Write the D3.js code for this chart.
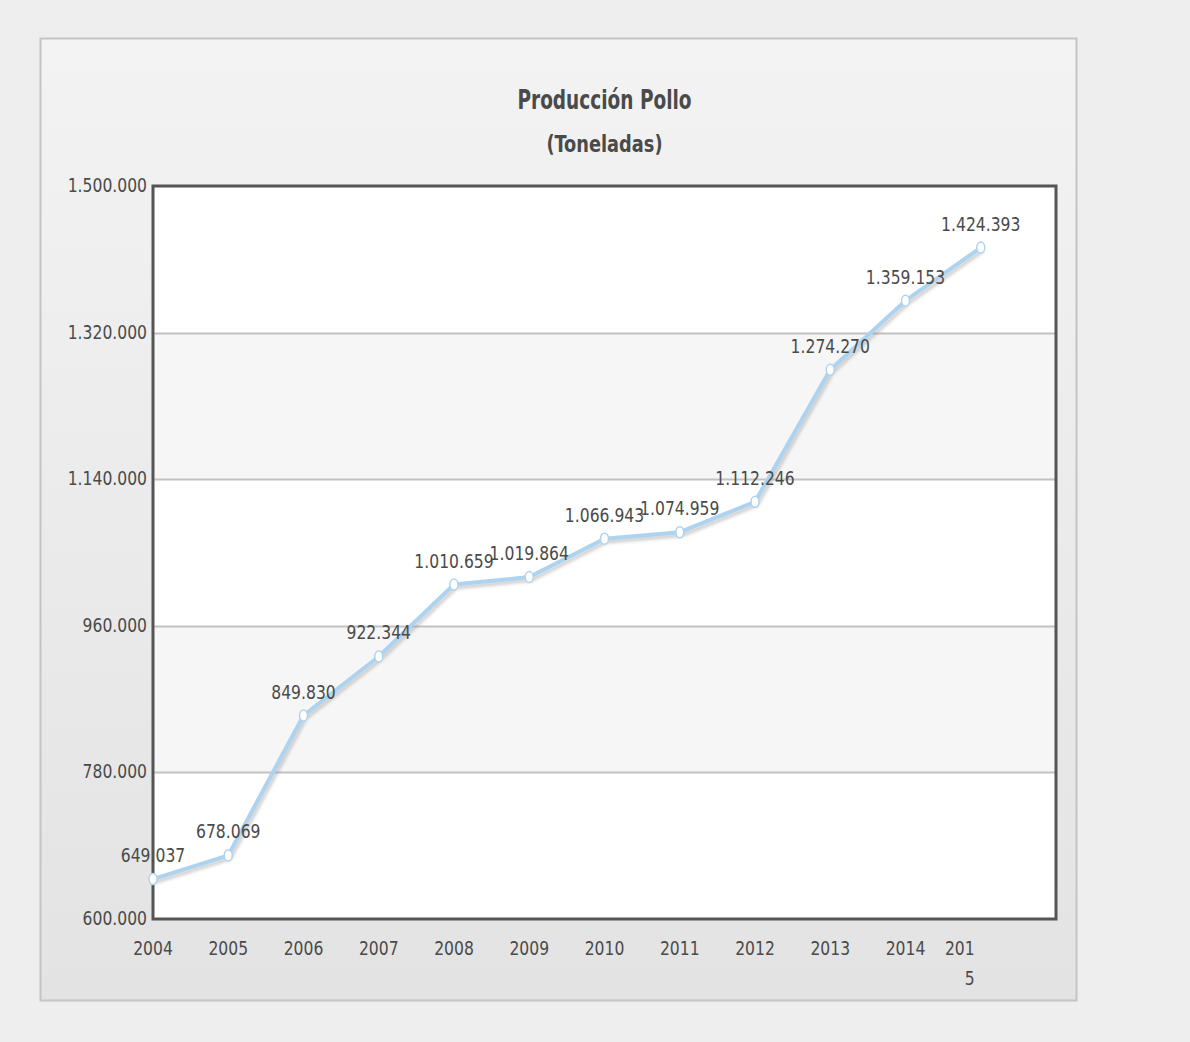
<!DOCTYPE html>
<html>
<head>
<meta charset="utf-8">
<script src="https://cdn.jsdelivr.net/npm/d3@7"></script>
<style>
  body { margin: 0; background: #eeeeee; }
  svg { display: block; }
  text { font-family: "DejaVu Sans Condensed", "DejaVu Sans", sans-serif; fill: #4a4a4a; }
</style>
</head>
<body>
<svg id="chart"></svg>
<script>
const years = [2004, 2005, 2006, 2007, 2008, 2009, 2010, 2011, 2012, 2013, 2014, 2015];
const produccion = [649037, 678069, 849830, 922344, 1010659, 1019864, 1066943, 1074959, 1112246, 1274270, 1359153, 1424393];
const yTicks = [600000, 780000, 960000, 1140000, 1320000, 1500000];

const width = 1190, height = 1042;
const plot = { left: 153, top: 186, right: 1056, bottom: 919 };
const stretch = 1.18; // the reference text is drawn taller than wide

const svg = d3.select('#chart').attr('width', width).attr('height', height);

const es = d3.formatLocale({ decimal: ',', thousands: '.', grouping: [3], currency: ['', ''] });
const fmt = es.format(',d');

const place = (px, py) => `translate(${px},${py}) scale(1.02,${stretch})`;

const defs = svg.append('defs');
const grad = defs.append('linearGradient').attr('id', 'panelGrad')
  .attr('x1', 0).attr('y1', 0).attr('x2', 0).attr('y2', 1);
grad.append('stop').attr('offset', '0%').attr('stop-color', '#f3f3f3');
grad.append('stop').attr('offset', '100%').attr('stop-color', '#e3e3e3');

const shadow = defs.append('filter').attr('id', 'shadow')
  .attr('x', '-10%').attr('y', '-10%').attr('width', '120%').attr('height', '120%');
shadow.append('feGaussianBlur').attr('stdDeviation', 1.5);

// panel
svg.append('rect')
  .attr('x', 40.5).attr('y', 38.5).attr('width', 1036).attr('height', 962)
  .attr('fill', 'url(#panelGrad)').attr('stroke', '#c4c4c4').attr('stroke-width', 2);

const x = d3.scaleLinear().domain([2004, 2016]).range([plot.left, plot.right]);
const y = d3.scaleLinear().domain([600000, 1500000]).range([plot.bottom, plot.top]);

// bands
svg.append('rect')
  .attr('x', plot.left).attr('y', plot.top)
  .attr('width', plot.right - plot.left).attr('height', plot.bottom - plot.top)
  .attr('fill', '#ffffff');

const bands = d3.pairs(yTicks).filter((d, i) => i % 2 === 1);
svg.selectAll('.band')
  .data(bands)
  .enter().append('rect')
  .attr('class', 'band')
  .attr('x', plot.left)
  .attr('y', d => y(d[1]))
  .attr('width', plot.right - plot.left)
  .attr('height', d => y(d[0]) - y(d[1]))
  .attr('fill', '#f6f6f6');

// grid
svg.selectAll('.grid')
  .data(yTicks.slice(1, -1))
  .enter().append('line')
  .attr('class', 'grid')
  .attr('x1', plot.left).attr('x2', plot.right)
  .attr('y1', d => Math.round(y(d)) + 0.5).attr('y2', d => Math.round(y(d)) + 0.5)
  .attr('stroke', '#c2c2c2').attr('stroke-width', 2);

// y labels
svg.selectAll('.ylab')
  .data(yTicks)
  .enter().append('text')
  .attr('class', 'ylab')
  .attr('transform', d => place(plot.left - 6, y(d) + 6))
  .attr('text-anchor', 'end')
  .style('font-size', '17px')
  .text(d => fmt(d));

// x labels
svg.selectAll('.xlab')
  .data(years.slice(0, -1))
  .enter().append('text')
  .attr('class', 'xlab')
  .attr('transform', d => place(x(d), plot.bottom + 36))
  .attr('text-anchor', 'middle')
  .style('font-size', '17px')
  .text(d => d);

// last label wraps in the original
const last = years[years.length - 1];
svg.append('text')
  .attr('transform', place(x(last) - 21, plot.bottom + 36))
  .attr('text-anchor', 'middle')
  .style('font-size', '17px')
  .text(String(last).slice(0, 3));
svg.append('text')
  .attr('transform', place(x(last) - 11, plot.bottom + 66))
  .attr('text-anchor', 'middle')
  .style('font-size', '17px')
  .text(String(last).slice(3));

// frame
svg.append('rect')
  .attr('x', plot.left).attr('y', plot.top)
  .attr('width', plot.right - plot.left).attr('height', plot.bottom - plot.top)
  .attr('fill', 'none').attr('stroke', '#555555').attr('stroke-width', 3);

const data = years.map((d, i) => ({ year: d, value: produccion[i] }));
const line = d3.line().x(d => x(d.year)).y(d => y(d.value));

svg.append('path')
  .datum(data)
  .attr('d', line)
  .attr('transform', 'translate(2,3)')
  .attr('fill', 'none')
  .attr('stroke', '#999999')
  .attr('stroke-opacity', 0.45)
  .attr('stroke-width', 4)
  .attr('filter', 'url(#shadow)');

svg.append('path')
  .datum(data)
  .attr('d', line)
  .attr('fill', 'none')
  .attr('stroke', '#acd3f0')
  .attr('stroke-width', 4)
  .attr('stroke-linejoin', 'round');

svg.selectAll('.pt')
  .data(data)
  .enter().append('ellipse')
  .attr('class', 'pt')
  .attr('cx', d => x(d.year))
  .attr('cy', d => y(d.value))
  .attr('rx', 4).attr('ry', 5.5)
  .attr('fill', '#ffffff')
  .attr('stroke', '#acd3f0')
  .attr('stroke-width', 1.5);

svg.selectAll('.vlab')
  .data(data)
  .enter().append('text')
  .attr('class', 'vlab')
  .attr('transform', d => place(x(d.year), y(d.value) - 17))
  .attr('text-anchor', 'middle')
  .style('font-size', '17px')
  .text(d => fmt(d.value));

// title
const cx = (plot.left + plot.right) / 2;
svg.append('text')
  .attr('transform', `translate(${cx},109) scale(0.98,1.25)`)
  .attr('text-anchor', 'middle')
  .style('font-size', '21px').style('font-weight', 'bold')
  .text('Producción Pollo');
svg.append('text')
  .attr('transform', `translate(${cx},152) scale(1.04,1.2)`)
  .attr('text-anchor', 'middle')
  .style('font-size', '19px').style('font-weight', 'bold')
  .text('(Toneladas)');
</script>
</body>
</html>
